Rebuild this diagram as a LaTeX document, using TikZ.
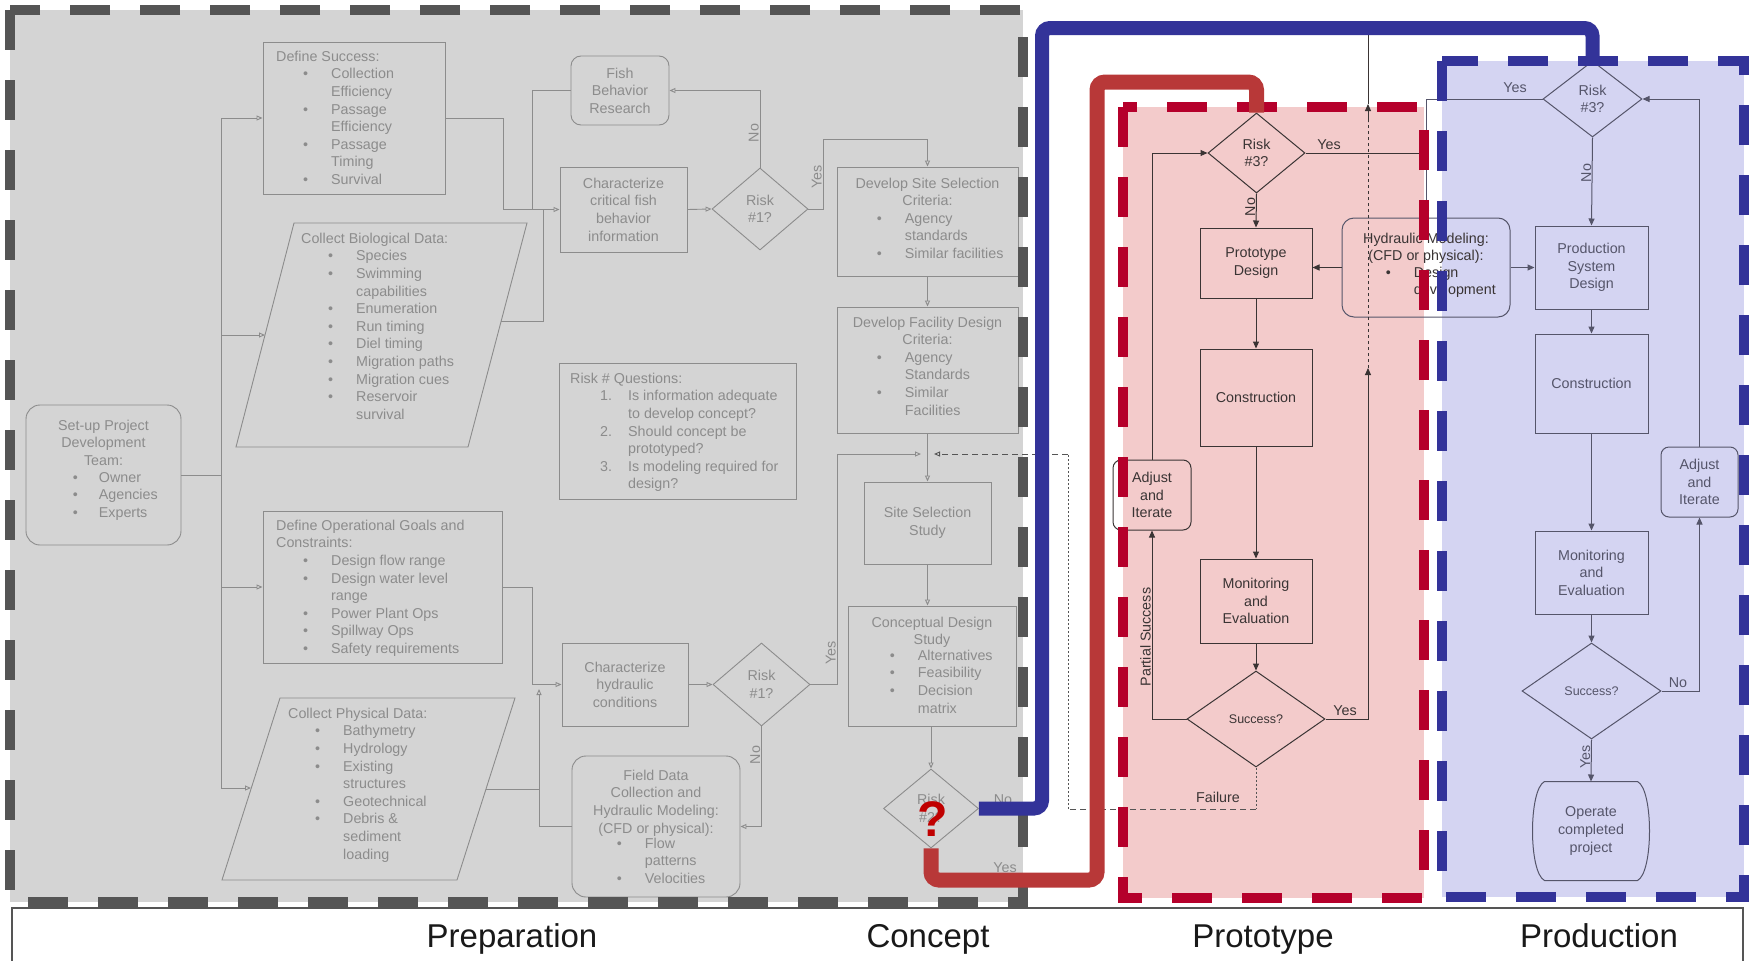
\documentclass[tikz,border=0pt]{standalone}
\usepackage{fontspec}
\setmainfont{Liberation Sans}
\usetikzlibrary{shapes.geometric,arrows.meta}

\definecolor{grayfill}{HTML}{D4D4D4}
\definecolor{graydash}{HTML}{555555}
\definecolor{grayline}{HTML}{8C8C8C}
\definecolor{pinkfill}{HTML}{F3CBCB}
\definecolor{reddash}{HTML}{B5002B}
\definecolor{redthick}{HTML}{B83838}
\definecolor{bluefill}{HTML}{D4D4F2}
\definecolor{bluedash}{HTML}{333399}
\definecolor{protoline}{HTML}{3A3434}
\definecolor{prodline}{HTML}{55556A}
\definecolor{qmark}{HTML}{C00000}

\newcommand{\bu}{\hspace{27pt}\textbullet}
\newcommand{\ctab}[1]{\begin{tabular}{@{}c@{}}#1\end{tabular}}
\newcommand{\ltab}[1]{\begin{tabular}{@{}l@{\hspace{23pt}}l@{}}#1\end{tabular}}
\newcommand{\ttl}[1]{\multicolumn{2}{@{}l@{}}{#1}}

\tikzset{
	gline/.style={draw=grayline, line width=0.9pt},
	garrow/.style={gline, -{Triangle[open,length=6pt,width=5pt]}},
	gbox/.style={gline, rectangle, inner sep=0pt, text=grayline, align=center},
	gdiamond/.style={gline, diamond, inner sep=0pt, text=grayline, align=center},
	gtext/.style={inner sep=0pt, text=grayline, anchor=north west},
	glabel/.style={inner sep=1pt, text=grayline},
	pline/.style={draw=protoline, line width=1pt},
	parrow/.style={pline, -{Triangle[length=7pt,width=6pt]}},
	pbox/.style={pline, rectangle, inner sep=0pt, text=protoline, align=center},
	pdiamond/.style={pline, diamond, inner sep=0pt, text=protoline, align=center},
	plabel/.style={inner sep=1pt, text=protoline},
	qline/.style={draw=prodline, line width=1pt},
	qarrow/.style={qline, -{Triangle[length=7pt,width=6pt]}},
	qbox/.style={qline, rectangle, inner sep=0pt, text=prodline, align=center},
	qdiamond/.style={qline, diamond, inner sep=0pt, text=prodline, align=center},
	qlabel/.style={inner sep=1pt, text=prodline},
	failline/.style={draw=graydash, line width=0.9pt},
	region/.style={line width=10pt, dash pattern=on 40pt off 30pt},
	phase/.style={font=\fontsize{33}{33}\selectfont, anchor=base, text=black!90}
}

\begin{document}
\begin{tikzpicture}[x=1pt, y=-1pt, font=\fontsize{14.3}{17.6}\selectfont]
	\useasboundingbox (0,0) rectangle (1749,961);
	\fill[grayfill] (10,10) rectangle (1023,902);
	\fill[pinkfill] (1123,107) rectangle (1424,898);
	\fill[bluefill] (1442,61) rectangle (1744,897);

	% preparation
	\node[gbox, rounded corners=14pt, minimum width=155, minimum height=140] (setup) at (103.5,475) {};
	\node[gtext, anchor=north] (setuptitle) at (103.5,417.7) {\ctab{Set-up Project\\Development\\Team:}};
	\node[gtext] (setuplist) at (72.7,469.7) {\begin{tabular}{@{}l@{\hspace{21pt}}l@{}}\textbullet & Owner\\ \textbullet & Agencies\\ \textbullet & Experts\end{tabular}};

	\node[gbox, minimum width=182, minimum height=152] (succ) at (354,118) {};
	\node[gtext] (succtext) at (276,48.7) {\ltab{\ttl{Define Success:}\\ \bu & Collection\\ & Efficiency\\ \bu & Passage\\ & Efficiency\\ \bu & Passage\\ & Timing\\ \bu & Survival}};

	\draw[gline] (294,223) -- (527,223) -- (468,447) -- (236,447) -- cycle;
	\coordinate (biowest) at (265,335);
	\coordinate (bioeast) at (501,321);
	\node[gtext] (biotext) at (301,230.7) {\ltab{\ttl{Collect Biological Data:}\\ \bu & Species\\ \bu & Swimming\\ & capabilities\\ \bu & Enumeration\\ \bu & Run timing\\ \bu & Diel timing\\ \bu & Migration paths\\ \bu & Migration cues\\ \bu & Reservoir\\ & survival}};

	\node[gbox, minimum width=239, minimum height=152] (oper) at (382.5,587) {};
	\node[gtext] (opertext) at (276,517.7) {\ltab{\ttl{Define Operational Goals and}\\ \ttl{Constraints:}\\ \bu & Design flow range\\ \bu & Design water level\\ & range\\ \bu & Power Plant Ops\\ \bu & Spillway Ops\\ \bu & Safety requirements}};

	\draw[gline] (280,698) -- (515,698) -- (457,880) -- (222,880) -- cycle;
	\coordinate (physwest) at (251,788);
	\coordinate (physeast) at (486,789);
	\node[gtext] (phystext) at (288,705.7) {\ltab{\ttl{Collect Physical Data:}\\ \bu & Bathymetry\\ \bu & Hydrology\\ \bu & Existing\\ & structures\\ \bu & Geotechnical\\ \bu & Debris \&\\ & sediment\\ & loading}};

	\coordinate (trunktop) at (221,118);
	\coordinate (trunkbot) at (221,788);
	\draw[gline] (setup.east) -- (setup.east -| trunktop);
	\draw[gline] (trunktop) -- (trunkbot);
	\draw[garrow] (trunktop) -- (succ.west);
	\draw[garrow] (trunktop |- biowest) -- (biowest);
	\draw[garrow] (trunktop |- oper.west) -- (oper.west);
	\draw[garrow] (trunkbot) -- (physwest);

	% concept
	\node[gbox, rounded corners=10pt, minimum width=98, minimum height=69] (fish) at (620,90.5) {Fish\\Behavior\\Research};
	\node[gbox, minimum width=127, minimum height=85] (charfish) at (623.5,209.5) {Characterize\\critical fish\\behavior\\information};
	\node[gdiamond, minimum width=96, minimum height=82] (riskfish) at (760,209) {Risk\\\#1?};

	\coordinate (mergefish) at (503,209.5);
	\coordinate (mergeresearch) at (532,209.5);
	\coordinate (mergebio) at (543,209.5);
	\draw[garrow] (succ.east) -| (mergefish) -- (charfish.west);
	\draw[gline] (bioeast) -| (mergebio);
	\draw[gline] (fish.west) -| (mergeresearch);
	\draw[garrow] (charfish.east) -- (riskfish.west);
	\draw[garrow] (riskfish.north) |- (fish.east);
	\node[glabel, rotate=90, anchor=south] (nofish) at (760,133) {No};

	\node[gbox, minimum width=181, minimum height=109] (site) at (927.5,221.5) {};
	\node[gtext, anchor=north] (sitetitle) at (927.5,175.7) {\ctab{Develop Site Selection\\Criteria:}};
	\node[gtext] (sitelist) at (876.7,210.7) {\ltab{\textbullet & Agency\\ & standards\\ \textbullet & Similar facilities}};

	\coordinate (yesfish) at (823,139);
	\draw[garrow] (riskfish.east) -| (yesfish) -| (site.north);
	\node[glabel, rotate=90, anchor=south] (yesfishlabel) at (823,177) {Yes};

	\node[gbox, minimum width=181, minimum height=126] (facility) at (927.5,370) {};
	\node[gtext, anchor=north] (faciltitle) at (927.5,314.7) {\ctab{Develop Facility Design\\Criteria:}};
	\node[gtext] (facillist) at (876.7,349.7) {\ltab{\textbullet & Agency\\ & Standards\\ \textbullet & Similar\\ & Facilities}};
	\draw[garrow] (site.south) -- (facility.north);

	\node[gbox, minimum width=237, minimum height=136] (riskquestions) at (677.5,431) {};
	\node[gtext] (riskqtext) at (570,370.7) {\begin{tabular}{@{}l@{\hspace{16pt}}l@{}}\ttl{Risk \# Questions:}\\ \hspace{30pt}1. & Is information adequate\\ & to develop concept?\\ \hspace{30pt}2. & Should concept be\\ & prototyped?\\ \hspace{30pt}3. & Is modeling required for\\ & design?\end{tabular}};

	\node[gbox, minimum width=127, minimum height=82] (study) at (927.5,523) {Site Selection\\Study};
	\coordinate (junction) at (927.5,454);
	\coordinate (junctionleft) at (921,454);
	\coordinate (junctionright) at (934,454);
	\draw[gline] (facility.south) -- (junction);
	\draw[garrow] (junction) -- (study.north);

	\node[gbox, minimum width=168, minimum height=120] (concept) at (932,666) {};
	\node[gtext, anchor=north] (concepttitle) at (932,614.7) {\ctab{Conceptual Design\\Study}};
	\node[gtext] (conceptlist) at (889.7,647.7) {\ltab{\textbullet & Alternatives\\ \textbullet & Feasibility\\ \textbullet & Decision\\ & matrix}};
	\draw[garrow] (study.south) -- (study.south |- concept.north);

	\node[gdiamond, minimum width=95, minimum height=79] (riskconcept) at (931,808.5) {Risk\\\#2?};
	\draw[garrow] (concept.south -| riskconcept.north) -- (riskconcept.north);
	\node[glabel] (noconcept) at (1003,800) {No};
	\node[glabel] (yesconcept) at (1005,868) {Yes};

	\node[gbox, minimum width=126, minimum height=83] (charhydro) at (625,684.5) {Characterize\\hydraulic\\conditions};
	\node[gdiamond, minimum width=97, minimum height=83] (riskhydro) at (761.5,684.5) {Risk\\\#1?};
	\node[gbox, rounded corners=14pt, minimum width=168, minimum height=141] (field) at (656,826.5) {};
	\node[gtext, anchor=north] (fieldtitle) at (656,767.7) {\ctab{Field Data\\Collection and\\Hydraulic Modeling:\\(CFD or physical):}};
	\node[gtext] (fieldlist) at (616.7,835.7) {\ltab{\textbullet & Flow\\ & patterns\\ \textbullet & Velocities}};

	\coordinate (mergeoper) at (532,684.5);
	\coordinate (mergefield) at (539,689);
	\draw[garrow] (oper.east) -| (mergeoper) -- (charhydro.west);
	\draw[garrow] (field.west) -| (mergefield);
	\draw[gline] (physeast) -- (physeast -| mergefield);
	\draw[garrow] (charhydro.east) -- (riskhydro.west);
	\draw[garrow] (riskhydro.south) |- (field.east);
	\node[glabel, rotate=90, anchor=south] (nohydro) at (761.5,755) {No};
	\coordinate (yeshydro) at (837,454);
	\draw[garrow] (riskhydro.east) -| (yeshydro) -- (junctionleft);
	\node[glabel, rotate=90, anchor=south] (yeshydrolabel) at (837,653) {Yes};

	% prototype
	\node[pdiamond, minimum width=97, minimum height=80] (riskproto) at (1256.5,153) {Risk\\\#3?};
	\node[pbox, minimum width=112, minimum height=70] (protodesign) at (1256,263) {Prototype\\Design};
	\node[pbox, minimum width=112, minimum height=97] (protobuild) at (1256,397.5) {Construction};
	\node[pbox, minimum width=112, minimum height=84] (protomonitor) at (1256,601) {Monitoring\\and\\Evaluation};
	\node[pdiamond, minimum width=138, minimum height=96, font=\fontsize{12.5}{15}\selectfont] (protosuccess) at (1256,719) {Success?};
	\node[pbox, rounded corners=8pt, minimum width=78, minimum height=70] (protoadjust) at (1152,495) {Adjust\\and\\Iterate};

	\node[pbox, draw=prodline, rounded corners=12pt, minimum width=168, minimum height=99] (hydraulic) at (1426,267.5) {};
	\node[inner sep=0pt, text=protoline, anchor=north] (hydrotitle) at (1426,230.7) {\ctab{Hydraulic Modeling:\\(CFD or physical):}};
	\node[inner sep=0pt, text=protoline, anchor=north west] (hydrolist) at (1385.7,264.7) {\ltab{\textbullet & Design\\ & development}};

	\draw[parrow] (riskproto.south) -- (protodesign.north);
	\node[plabel, rotate=90, anchor=south] (noproto) at (1256.5,207) {No};
	\draw[parrow] (hydraulic.west) -- (hydraulic.west -| protodesign.east);
	\draw[parrow] (protodesign.south) -- (protobuild.north);
	\draw[parrow] (protobuild.south) -- (protomonitor.north);
	\draw[parrow] (protomonitor.south) -- (protosuccess.north);
	\draw[parrow] (protosuccess.west) -| (protoadjust.south);
	\node[plabel, rotate=90, anchor=south] (partial) at (1152,637) {Partial Success};
	\draw[parrow] (protoadjust.north) |- (riskproto.west);
	\draw[pline] (riskproto.east) -- (riskproto.east -| hydraulic.north);
	\node[plabel, anchor=south] (yesproto) at (1329,151) {Yes};

	\coordinate (protoup) at (1368,368);
	\coordinate (protomid) at (1368,122);
	\coordinate (prototip) at (1368,104);
	\coordinate (prototop) at (1368,30);
	\draw[parrow] (protosuccess.east) -| (protoup);
	\draw[pline, dash pattern=on 3pt off 3pt] (protoup) -- (protomid);
	\draw[parrow] (protomid) -- (prototip);
	\draw[pline] (prototip) -- (prototop);
	\node[plabel, anchor=south] (yesproto2) at (1345,717) {Yes};

	\coordinate (failbottom) at (1256,809);
	\coordinate (failleft) at (1068,809);
	\coordinate (failtop) at (1068,454);
	\draw[failline, dash pattern=on 2pt off 2pt] (protosuccess.south) -- (failbottom);
	\draw[failline, dash pattern=on 6pt off 4pt] (failbottom) -- (failleft);
	\draw[failline, dash pattern=on 2pt off 2pt] (failleft) -- (failtop);
	\draw[failline, dash pattern=on 6pt off 4pt, -{Triangle[open,length=6pt,width=5pt]}] (failtop) -- (junctionright);
	\node[plabel] (failure) at (1218,797) {Failure};

	% production
	\node[qdiamond, minimum width=99, minimum height=76] (riskprod) at (1592.5,99) {Risk\\\#3?};
	\node[qbox, minimum width=113, minimum height=83] (proddesign) at (1591.5,267.5) {Production\\System\\Design};
	\node[qbox, minimum width=113, minimum height=99] (prodbuild) at (1591.5,383.5) {Construction};
	\node[qbox, minimum width=113, minimum height=83] (prodmonitor) at (1591.5,572.5) {Monitoring\\and\\Evaluation};
	\node[qdiamond, minimum width=139, minimum height=96, font=\fontsize{12.5}{15}\selectfont] (prodsuccess) at (1591.5,691) {Success?};
	\node[qbox, rounded corners=8pt, minimum width=77, minimum height=70] (prodadjust) at (1699.5,482) {Adjust\\and\\Iterate};
	\node[qbox, draw=none, minimum width=92, minimum height=98] (operate) at (1591,831) {Operate\\completed\\project};
	\draw[qline] (operate.north west) -- (operate.north east) .. controls +(16,8) and +(16,-8) .. (operate.south east) -- (operate.south west) .. controls +(-16,-8) and +(-16,8) .. (operate.north west);

	\draw[qarrow] (riskprod.south) -- (proddesign.north);
	\node[qlabel, rotate=90, anchor=south] (noprod) at (1592.5,173) {No};
	\draw[qarrow] (riskprod.west) -| (hydraulic.north);
	\node[qlabel, anchor=south] (yesprod) at (1515,94) {Yes};
	\draw[qarrow] (hydraulic.east) -- (hydraulic.east -| proddesign.west);
	\draw[qarrow] (proddesign.south) -- (prodbuild.north);
	\draw[qarrow] (prodbuild.south) -- (prodmonitor.north);
	\draw[qarrow] (prodmonitor.south) -- (prodsuccess.north);
	\draw[qarrow] (prodsuccess.south) -- (operate.north);
	\node[qlabel, rotate=90, anchor=south] (yesprod2) at (1591.5,757) {Yes};
	\draw[qarrow] (prodsuccess.east) -| (prodadjust.south);
	\node[qlabel, anchor=south] (noprod2) at (1678,689) {No};
	\draw[qarrow] (prodadjust.north) |- (riskprod.east);

	% phase borders and paths
	\draw[region, graydash] (10,10) rectangle (1023,902);
	\draw[region, reddash] (1123,107) rectangle (1424,898);
	\draw[region, bluedash] (1442,61) rectangle (1744,897);

	\coordinate (bluetop) at (1042,28);
	\draw[bluedash, line width=14pt, rounded corners=8pt] (riskconcept.east) -| (bluetop) -| (riskprod.north);
	\coordinate (redbottom) at (1097,880);
	\coordinate (redtop) at (1256.5,82);
	\draw[redthick, line width=15pt, rounded corners=8pt] (riskconcept.south) |- (redbottom) |- (redtop) -- (riskproto.north);
	\node[text=qmark, inner sep=0pt, font=\fontsize{50}{50}\selectfont\bfseries] (question) at (933,819) {?};

	\draw[draw=graydash, line width=1.5pt, fill=white] (12,908) rectangle (1743,975);
	\node[phase] (preparation) at (512,947) {Preparation};
	\node[phase] (conceptphase) at (928,947) {Concept};
	\node[phase] (prototype) at (1263,947) {Prototype};
	\node[phase] (production) at (1599,947) {Production};
\end{tikzpicture}
\end{document}
